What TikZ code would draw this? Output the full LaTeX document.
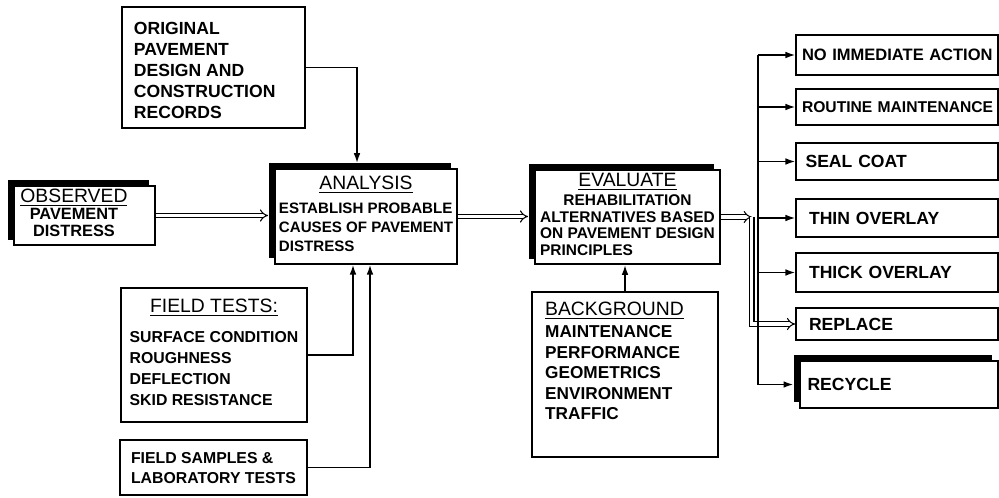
\documentclass[tikz,border=0pt]{standalone}
\usepackage{fontspec}
\setmainfont{Liberation Sans}
\usetikzlibrary{arrows.meta,calc,shadows}
\newcommand\boxtitle[1]{{\mdseries\fontsize{11}{12}\selectfont\underline{#1}}}

\begin{document}
\begin{tikzpicture}[x=0.02cm,y=-0.02cm,
  box/.style={draw, line width=1pt, fill=white, inner sep=2pt, font=\bfseries\fontsize{9}{11.9}\selectfont},
  shadowbox/.style={box, drop shadow={shadow xshift=-3.4pt, shadow yshift=3.2pt, opacity=1, fill=black}},
  optbox/.style={box, minimum width=4.04cm, text width=3.8cm, align=left, font=\bfseries\fontsize{10}{12}\selectfont},
  conn/.style={line width=0.8pt, -{Latex[length=5.5pt,width=3.8pt]}},
  dconn/.style={double, double distance=1.8pt, line width=0.6pt, -{Implies}}]
\useasboundingbox (0,0) rectangle (999,497);
\clip (0,0) rectangle (999,497);
\fill[white] (0,0) rectangle (999,497);

% inputs
\node[box, minimum width=3.66cm, minimum height=2.42cm, font=\bfseries\fontsize{10}{11.9}\selectfont] (orig) at (213.5,67.5)
  {\begin{tabular}{@{}l@{\hspace{10pt}}}\rule{0pt}{14pt}ORIGINAL\\ PAVEMENT\\ DESIGN AND\\ CONSTRUCTION\\ RECORDS\end{tabular}};
\node[shadowbox, minimum width=2.82cm, minimum height=1.18cm, font=\bfseries\fontsize{9.3}{9.6}\selectfont] (obs) at (84.5,215.5)
  {\begin{tabular}{@{}c@{\hspace{12pt}}}\boxtitle{OBSERVED}\\ PAVEMENT\\ DISTRESS\end{tabular}};
\node[box, minimum width=3.72cm, minimum height=2.68cm] (ftest) at (214,355)
  {\begin{tabular}{@{}l@{}}\multicolumn{1}{@{}c@{}}{\boxtitle{FIELD TESTS:}}\\[5pt] SURFACE CONDITION\\ ROUGHNESS\\ DEFLECTION\\ SKID RESISTANCE\end{tabular}};
\node[box, minimum width=3.74cm, minimum height=1.1cm, font=\bfseries\fontsize{9}{11.3}\selectfont] (fsamp) at (213.5,467.5)
  {\begin{tabular}{@{}l@{}}\rule{0pt}{10pt}FIELD SAMPLES \&\\ LABORATORY TESTS\end{tabular}};

% analysis and evaluation
\node[shadowbox, minimum width=3.64cm, minimum height=1.9cm, font=\bfseries\fontsize{8.6}{10.8}\selectfont] (ana) at (366,216.5)
  {\begin{tabular}{@{}l@{}}\multicolumn{1}{@{}c@{}}{\boxtitle{ANALYSIS}}\\[3pt] ESTABLISH PROBABLE\\ CAUSES OF PAVEMENT\\ DISTRESS\end{tabular}};
\node[shadowbox, minimum width=3.7cm, minimum height=1.84cm, font=\bfseries\fontsize{8.8}{9.6}\selectfont] (eva) at (627.5,217)
  {\begin{tabular}{@{}l@{}}\multicolumn{1}{@{}c@{}}{\boxtitle{EVALUATE}}\\[1pt] \multicolumn{1}{@{}c@{}}{REHABILITATION}\\ ALTERNATIVES BASED\\ ON PAVEMENT DESIGN\\ PRINCIPLES\end{tabular}};
\node[box, minimum width=3.72cm, minimum height=3.3cm, font=\bfseries\fontsize{9.8}{11.6}\selectfont] (bg) at (625,374.5)
  {\begin{tabular}{@{}l@{\hspace{12pt}}}\boxtitle{BACKGROUND}\\[1pt] MAINTENANCE\\ PERFORMANCE\\ GEOMETRICS\\ ENVIRONMENT\\ TRAFFIC\rule[-16pt]{0pt}{0pt}\end{tabular}};

% alternatives
\node[optbox, minimum height=0.8cm, font=\bfseries\fontsize{9.4}{12}\selectfont] (noact) at (897,55) {\mbox{NO IMMEDIATE ACTION}};
\node[optbox, minimum height=0.72cm, font=\bfseries\fontsize{8.9}{12}\selectfont] (routine) at (897,107) {\mbox{ROUTINE MAINTENANCE}};
\node[optbox, minimum height=0.74cm] (seal) at (897,161.5) {\hspace*{2pt}SEAL COAT};
\node[optbox, minimum height=0.76cm] (thin) at (897,218) {\hspace*{4pt}THIN OVERLAY};
\node[optbox, minimum height=0.78cm] (thick) at (897,272.5) {\hspace*{4pt}THICK OVERLAY};
\node[optbox, minimum height=0.64cm] (repl) at (897,324) {\hspace*{4pt}REPLACE};
\node[optbox, shadowbox, minimum width=3.96cm, minimum height=0.94cm, font=\bfseries\fontsize{10}{12}\selectfont] (recyc) at (899,384.5) {\hspace*{2pt}RECYCLE};

% connections
\draw[conn, shorten >=3pt] (orig.east) -| ($(ana.north)+(-9,0)$);
\draw[dconn, shorten >=3.4pt] (obs.east) -- (obs.east -| ana.west);
\draw[conn] (ftest.east) -| ($(ana.south)+(-13,0)$);
\draw[conn] (fsamp.east) -| ($(ana.south)+(4,0)$);
\draw[dconn, shorten >=3.4pt] (ana.east) -- (ana.east -| eva.west);
\draw[conn] (bg.north) -- (bg.north |- eva.south);

\coordinate (branch) at ($(eva.east)+(31,0)$);
\coordinate (trunk) at ($(branch)+(6,0)$);
\draw[dconn] (eva.east) -- (branch);
\draw[dconn] (branch) |- (repl.west);
\draw[line width=0.8pt] (trunk |- noact.west) -- (trunk |- recyc.west);
\foreach \n in {noact,routine,seal,thin,thick}
  \draw[conn] (trunk |- \n.west) -- (\n.west);
\draw[conn, shorten >=3.4pt] (trunk |- recyc.west) -- (recyc.west);

\end{tikzpicture}
\end{document}
